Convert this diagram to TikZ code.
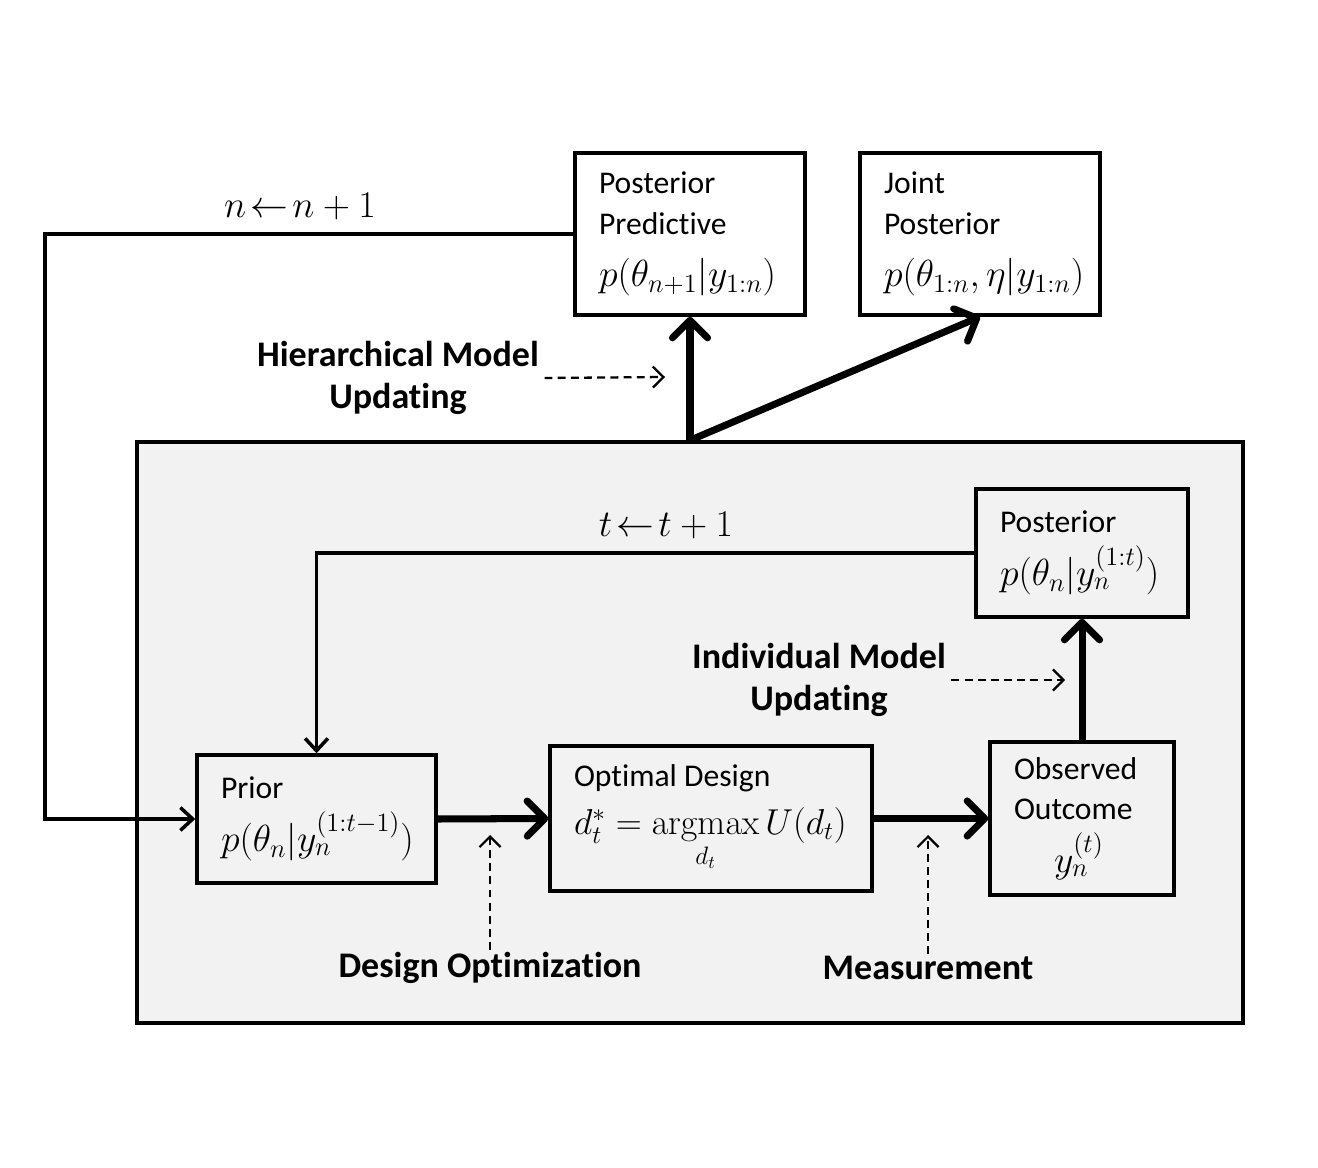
\RequirePackage{fix-cm}
\documentclass[tikz,border=0pt]{standalone}
\usepackage{amsmath}
\usepackage[no-math]{fontspec}
\setmainfont{Carlito}[Ligatures=NoCommon]
\usetikzlibrary{arrows.meta}
\newcommand{\mth}[2][21.5]{\mbox{\fontsize{#1}{26}\selectfont$#2$}}

\begin{document}
\begin{tikzpicture}[x=0.02cm,y=-0.02cm,
    blk/.style={draw, line width=2pt, align=flush left, inner xsep=0.48cm, inner ysep=0pt, font=\fontsize{18}{23}\selectfont},
    lbl/.style={font=\fontsize{20.5}{24}\selectfont\bfseries, align=center, inner sep=1pt}]
    \tikzset{wire/.style={line width=2pt, -{Straight Barb[length=7pt,width=13pt]}},
    heavy/.style={line width=4pt, -{Straight Barb[length=10pt,width=20pt,round]}},
    hint/.style={line width=1.3pt, dash pattern=on 4.5pt off 3pt, -{Straight Barb[length=6pt,width=12pt]}}}
    \useasboundingbox (0,0) rectangle (1318,1168);
    % lower frame: one subject
    \node[draw, line width=2pt, fill=gray!10, minimum width=22.12cm, minimum height=11.62cm, inner sep=0pt] (outer) at (690,732.5) {};
    % boxes
    \node[blk, fill=white, text width=3.64cm, minimum height=3.24cm] (pred) at (690,234) {Posterior\\Predictive\\[7pt]\mth{p(\theta_{n+1}|y_{1:n})}};
    \node[blk, fill=white, text width=3.84cm, minimum height=3.24cm] (joint) at (980,234) {Joint\\Posterior\\[7pt]\mth{p(\theta_{1:n},\eta|y_{1:n})}};
    \node[blk, text width=3.28cm, minimum height=2.56cm] (post) at (1082,553) {Posterior\\[7pt]\mth{p(\theta_n|y_n^{(1:t)})}};
    \node[blk, text width=3.82cm, minimum height=2.56cm] (prior) at (316.5,819) {Prior\\[7pt]\mth{p(\theta_n|y_n^{(1:t-1)})}};
    \node[blk, text width=5.48cm, minimum height=2.9cm] (optd) at (711,818.5) {Optimal Design\\[4pt]\mth[20.5]{d_t^* = \operatorname*{argmax}\limits_{d_t} U(d_t)}};
    \node[blk, text width=2.72cm, minimum height=3.06cm] (obs) at (1082,818.5) {Observed\\Outcome\\[7pt]\hspace*{0.8cm}\mth{y_n^{(t)}}};
    % labels
    \node[lbl] (hier) at (398,378) {Hierarchical Model\\Updating};
    \node[lbl] (indiv) at (819,680) {Individual Model\\Updating};
    \node[lbl] (desopt) at (490,968) {Design Optimization};
    \node[lbl] (meas) at (928,968) {Measurement};
    \node (nlab) at (300,207) {\mth{n\!\gets\! n+1}};
    \node (tlab) at (666,526) {\mth{t\!\gets\! t+1}};
    % loops
    \coordinate (ncorner) at (45,234);
    \draw[wire] (pred.west) -- (ncorner) |- (prior.west);
    \draw[wire] (post.west) -| (prior.north);
    % main flow
    \draw[heavy] (prior.east) -- (optd.west);
    \draw[heavy] (optd.east) -- (obs.west);
    \draw[heavy] (obs.north) -- (post.south);
    \draw[heavy] (outer.north) -- (pred.south);
    \draw[heavy] (outer.north) -- (joint.south);
    % dashed pointers
    \coordinate (hiertip) at (665,377);
    \coordinate (indivtip) at (1065,680);
    \coordinate (desopttip) at (490,835);
    \coordinate (meastip) at (928,835);
    \draw[hint] ([xshift=2pt]hier.east) -- (hiertip);
    \draw[hint] ([xshift=2pt]indiv.east) -- (indivtip);
    \draw[hint] (desopt.north) -- (desopttip);
    \draw[hint] (meas.north) -- (meastip);
\end{tikzpicture}
\end{document}
